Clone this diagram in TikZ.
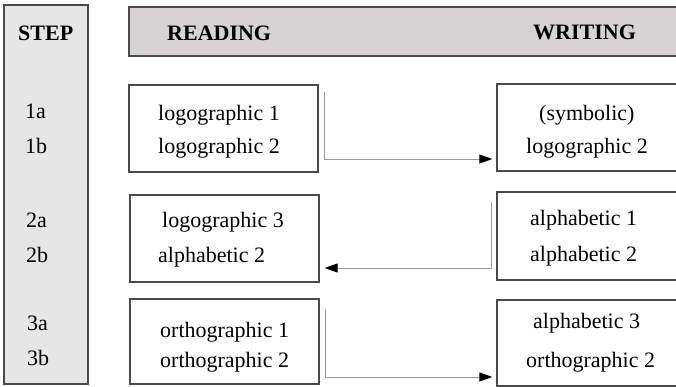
\documentclass[tikz,border=0pt]{standalone}
\usepackage{fontspec}
\setmainfont{Liberation Serif}
\usetikzlibrary{arrows.meta}
\definecolor{stepfill}{HTML}{E6E6E6}
\definecolor{headfill}{HTML}{D5D3D3}
\definecolor{boxline}{HTML}{4A4A4A}
\definecolor{arrline}{HTML}{9A9A9A}
\tikzset{
  panel/.style={draw=boxline, line width=1.3pt, fill=white, rectangle, inner sep=0pt},
  txt/.style={anchor=base west, inner sep=0pt, font=\fontsize{22}{26}\selectfont},
  head/.style={anchor=base west, inner sep=0pt, font=\fontsize{22}{26}\selectfont\bfseries},
  flow/.style={draw=arrline, line width=1pt, -{Triangle[length=13pt,width=9pt,color=black]}},
}
\begin{document}
\begin{tikzpicture}[x=1pt,y=-1pt]
\useasboundingbox (0,0) rectangle (676,386);
\clip (0,0) rectangle (676,386);
% STEP column and header
\draw[draw=boxline, line width=1.3pt, fill=stepfill] (4,5) rectangle (88,384);
\draw[draw=boxline, line width=1.5pt, fill=headfill] (129,7) rectangle (700,56);
\node[head] (hstep) at (18,40) {STEP};
\node[head] (hread) at (167,40) {READING};
\node[head] (hwrite) at (533,39) {WRITING};
% boxes
\node[panel, minimum width=189pt, minimum height=87pt] (L1) at (223.5,128.5) {};
\node[panel, minimum width=189pt, minimum height=87pt] (L2) at (224.5,238.5) {};
\node[panel, minimum width=189pt, minimum height=85pt] (L3) at (224.5,341.5) {};
\node[panel, minimum width=193pt, minimum height=87pt] (R1) at (593.5,127.5) {};
\node[panel, minimum width=193pt, minimum height=88pt] (R2) at (593.5,236) {};
\node[panel, minimum width=193pt, minimum height=86pt] (R3) at (593.5,343) {};
% step labels
\node[txt] (s1a) at (25,118) {1a};
\node[txt] (s1b) at (25,153) {1b};
\node[txt] (s2a) at (26,227) {2a};
\node[txt] (s2b) at (26,262) {2b};
\node[txt] (s3a) at (27,330) {3a};
\node[txt] (s3b) at (27,365) {3b};
% box texts
\node[txt] (t11) at (158,120) {logographic 1};
\node[txt] (t12) at (158,153) {logographic 2};
\node[txt] (t21) at (162,227) {logographic 3};
\node[txt] (t22) at (158,262) {alphabetic 2};
\node[txt] (t31) at (160,337) {orthographic 1};
\node[txt] (t32) at (160,367) {orthographic 2};
\node[txt] (u11) at (539,120) {(symbolic)};
\node[txt] (u12) at (526,153) {logographic 2};
\node[txt] (u21) at (530,225) {alphabetic 1};
\node[txt] (u22) at (530,261) {alphabetic 2};
\node[txt] (u31) at (533,328) {alphabetic 3};
\node[txt] (u32) at (526,367) {orthographic 2};
% connectors
\coordinate (a1s) at (324,92);
\coordinate (a1c) at (324,159);
\draw[flow, shorten >=4pt] (a1s) -- (a1c) -- (a1c -| R1.west);
\coordinate (a2s) at (491,202);
\coordinate (a2c) at (491,268);
\draw[flow, shorten >=5pt] (a2s) -- (a2c) -- (a2c -| L2.east);
\coordinate (a3s) at (325,309);
\coordinate (a3c) at (325,377);
\draw[flow, shorten >=4pt] (a3s) -- (a3c) -- (a3c -| R3.west);
\end{tikzpicture}
\end{document}
